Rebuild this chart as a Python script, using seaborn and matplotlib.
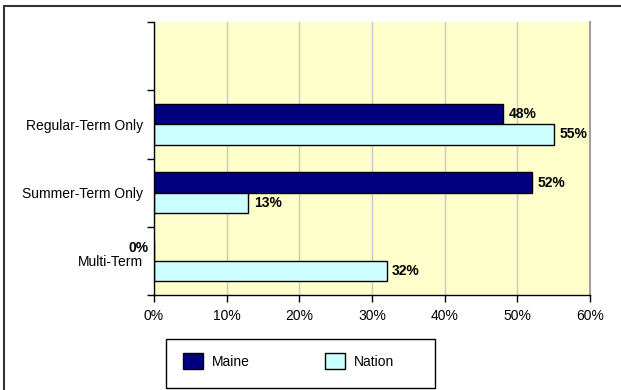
import matplotlib
matplotlib.use("Agg")
import matplotlib.pyplot as plt
import pandas as pd
import seaborn as sns
from matplotlib.lines import Line2D
from matplotlib.patches import Patch, Rectangle

categories = ["Regular-Term Only", "Summer-Term Only", "Multi-Term"]
maine = [48, 52, 0]
nation = [55, 13, 32]
series = ["Maine", "Nation"]
colors = {"Maine": "#000080", "Nation": "#CCFFFF"}

df = pd.DataFrame({
    "category": categories * 2,
    "group": ["Maine"] * 3 + ["Nation"] * 3,
    "value": maine + nation,
})

sns.set_theme(style="white")
plt.rcParams["font.family"] = ["Liberation Sans", "DejaVu Sans"]
plt.rcParams["text.color"] = "black"
plt.rcParams["xtick.color"] = "black"
plt.rcParams["ytick.color"] = "black"
plt.rcParams["axes.labelcolor"] = "black"

fig = plt.figure(figsize=(6.21, 3.9), dpi=100)
ax = fig.add_axes([154 / 621, 1 - 295 / 390, 436 / 621, 273 / 390])
ax.set_facecolor("#FFFFCC")

sns.barplot(data=df, y="category", x="value", hue="group", order=categories,
            hue_order=series, palette=colors, orient="h", width=0.59,
            edgecolor="black", linewidth=1, saturation=1, legend=False, ax=ax)

ax.set_xlim(0, 60)
ax.set_ylim(2.5, -1.5)
ax.set_xticks(range(0, 61, 10))
ax.set_xticklabels([f"{v}%" for v in range(0, 61, 10)], fontsize=10)
ax.set_yticks(range(len(categories)))
ax.set_yticklabels(categories, fontsize=10)
ax.set_yticks([-1.5, -0.5, 0.5, 1.5, 2.5], minor=True)
ax.tick_params(axis="y", which="major", length=0, pad=8)
ax.tick_params(axis="y", which="minor", length=5, width=1, color="black", direction="out", left=True)
ax.tick_params(axis="x", length=5, width=1, color="black", direction="out", bottom=True, pad=5)
ax.set_xlabel("")
ax.set_ylabel("")
ax.xaxis.grid(True, color="#C8C8C8", linewidth=1)
ax.set_axisbelow(True)

for side in ["left", "bottom"]:
    ax.spines[side].set_color("black")
    ax.spines[side].set_linewidth(1)
ax.spines["top"].set_visible(False)
ax.spines["right"].set_color("#A0A0A0")
ax.spines["right"].set_linewidth(1.5)

for container in ax.containers:
    for bar in container:
        w = bar.get_width()
        cy = bar.get_y() + bar.get_height() / 2
        if w == 0:
            ax.annotate("0%", (0, cy), xytext=(-4, 2), textcoords="offset points",
                        ha="right", va="center", fontsize=10, fontweight="bold",
                        annotation_clip=False)
        else:
            ax.annotate(f"{w:.0f}%", (w, cy), xytext=(4, 0), textcoords="offset points",
                        ha="left", va="center", fontsize=10, fontweight="bold",
                        annotation_clip=False)

# legend box drawn separately so the margins match
fig.add_artist(Rectangle((166 / 621, 1 - 388 / 390), 269 / 621, 49 / 390,
                         transform=fig.transFigure, facecolor="white",
                         edgecolor="black", linewidth=1))
handles = [Patch(facecolor=colors[s], edgecolor="black", linewidth=1) for s in series]
leg = fig.legend(handles, series, loc="center left", bbox_to_anchor=(183 / 621, 1 - 361 / 390),
                 ncol=2, fontsize=10, frameon=False, handlelength=1.45,
                 handleheight=1.5, handletextpad=0.65, columnspacing=5.4,
                 borderpad=0, borderaxespad=0)

# outer chart border (left and top edges only)
fig.add_artist(Line2D([3.5 / 621, 3.5 / 621], [0, 1 - 6 / 390], color="#333333", linewidth=1.5))
fig.add_artist(Line2D([3.5 / 621, 1], [1 - 6 / 390, 1 - 6 / 390], color="#333333", linewidth=1.5))

fig.savefig("out.png", dpi=100)
